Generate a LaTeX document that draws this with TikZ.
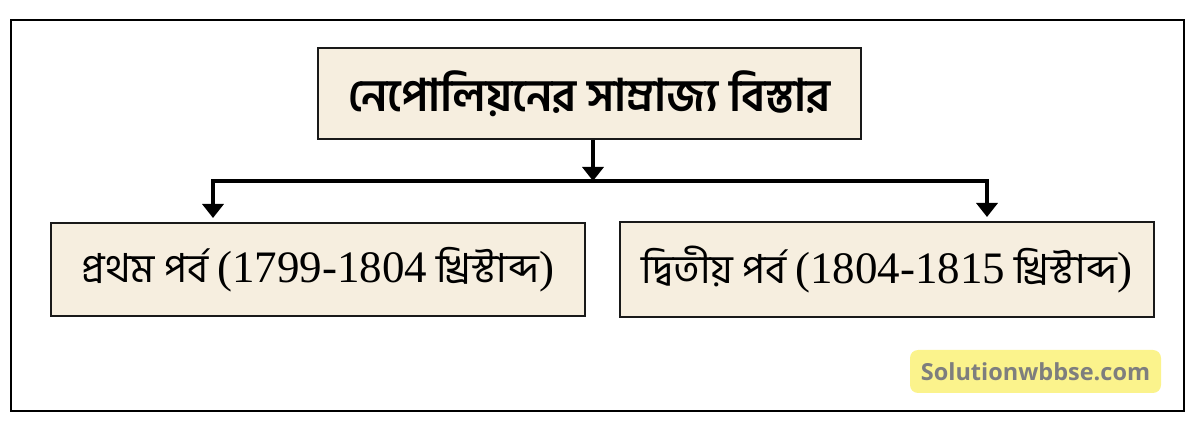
\documentclass[tikz,border=0pt]{standalone}
\usepackage{fontspec}
\setmainfont{Hind Siliguri}
\newfontfamily\numfont{Liberation Serif}
\newfontfamily\bnfont[Script=Bengali]{Hind Siliguri}
\newfontfamily\wmfont{Open Sans}
\usetikzlibrary{arrows.meta}
\definecolor{boxfill}{HTML}{F6EEDF}
\definecolor{wmfill}{HTML}{FBF38C}
\definecolor{wmtext}{HTML}{7E7E7E}
\newcommand{\nm}[1]{{\numfont\fontsize{45}{50}\selectfont #1}}
\tikzset{
  boxnode/.style={draw=black!90, line width=2pt, fill=boxfill, inner sep=0pt, align=center},
  conn/.style={line width=4pt, draw=black},
  arr/.style={conn, -{Triangle[width=21pt,length=14pt]}},
}
\begin{document}
\begin{tikzpicture}[x=1pt,y=-1pt]
\useasboundingbox (0,0) rectangle (1200,427);
\draw[line width=2pt] (11,20) rectangle (1184,411);
\node[boxnode, minimum width=543pt, minimum height=91pt, font=\bnfont\bfseries\fontsize{45}{50}\selectfont] (title) at (589.5,93.5) {নেপোলিয়নের সাম্রাজ্য বিস্তার};
\node[boxnode, minimum width=534pt, minimum height=93pt, font=\bnfont\fontsize{40}{46}\selectfont] (left) at (318,269.5) {প্রথম পর্ব \nm{(1799-1804} খ্রিস্টাব্দ\nm{)}};
\node[boxnode, minimum width=534pt, minimum height=95pt, font=\bnfont\fontsize{40}{46}\selectfont] (right) at (887,269.5) {দ্বিতীয় পর্ব \nm{(1804-1815} খ্রিস্টাব্দ\nm{)}};
\coordinate (j) at (593,181);
\coordinate (hl) at (213,181);
\coordinate (hr) at (987,181);
\draw[arr] (title.south -| j) -- (j);
\draw[conn, line cap=rect] (hl) -- (hr);
\draw[arr] (hl) -- ([yshift=4pt]left.north -| hl);
\draw[arr] (hr) -- ([yshift=4pt]right.north -| hr);
\node[fill=wmfill, rounded corners=8pt, minimum width=251pt, minimum height=43pt, inner sep=0pt, text=wmtext, font=\wmfont\bfseries\fontsize{23.5}{28}\selectfont] (wm) at (1035.5,371.5) {Solutionwbbse.com};
\end{tikzpicture}
\end{document}
